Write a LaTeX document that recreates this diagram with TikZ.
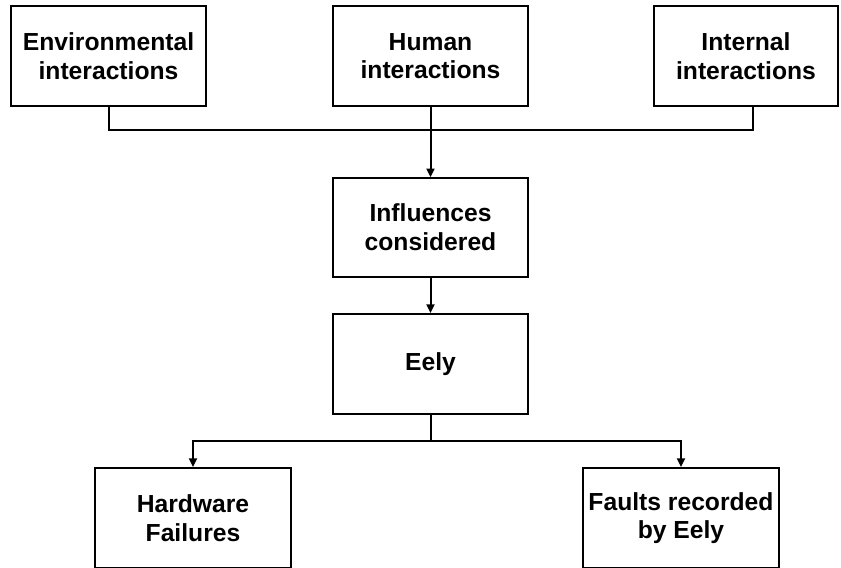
\documentclass[tikz,border=0pt]{standalone}
\usepackage{fontspec}
\setmainfont{Liberation Sans}
\usetikzlibrary{arrows.meta}
\begin{document}
\begin{tikzpicture}[x=0.75pt,y=-0.75pt,
  box/.style={draw=black, line width=1.5pt, fill=white, align=center, inner sep=0pt,
    font=\fontsize{18.5}{21.5}\selectfont\bfseries, minimum height=75pt},
  conn/.style={draw=black, line width=1.5pt},
  arr/.style={conn, -{Triangle[length=6.5pt,width=6pt]}}]
\useasboundingbox (0,0) rectangle (841,567);
\clip (0,0) rectangle (841,567);
\node[box, minimum width=146.25pt] (env) at (108.5,56) {Environmental\\interactions};
\node[box, minimum width=146.25pt] (hum) at (430.5,56) {Human\\interactions};
\node[box, minimum width=138pt] (int) at (746,56) {Internal\\interactions};
\node[box, minimum width=146.25pt, minimum height=74pt] (inf) at (430.5,227.5) {Influences\\considered};
\node[box, minimum width=146.25pt] (eely) at (430.5,364) {\raisebox{-3pt}{Eely}};
\node[box, minimum width=147pt] (hw) at (193,518) {Hardware\\Failures};
\node[box, minimum width=147pt] (fa) at (681,518) {Faults recorded\\by Eely};
\coordinate (j1) at (430.5,130);
\coordinate (j2) at (430.5,441);
\coordinate (intout) at (753,106);
\draw[conn] (env.south) |- (j1);
\draw[conn] (intout) |- (j1);
\draw[arr] (hum.south) -- (inf.north);
\draw[arr] (inf.south) -- (eely.north);
\draw[conn] (eely.south) -- (j2);
\draw[arr] (j2) -| (hw.north);
\draw[arr] (j2) -| (fa.north);
\end{tikzpicture}
\end{document}
